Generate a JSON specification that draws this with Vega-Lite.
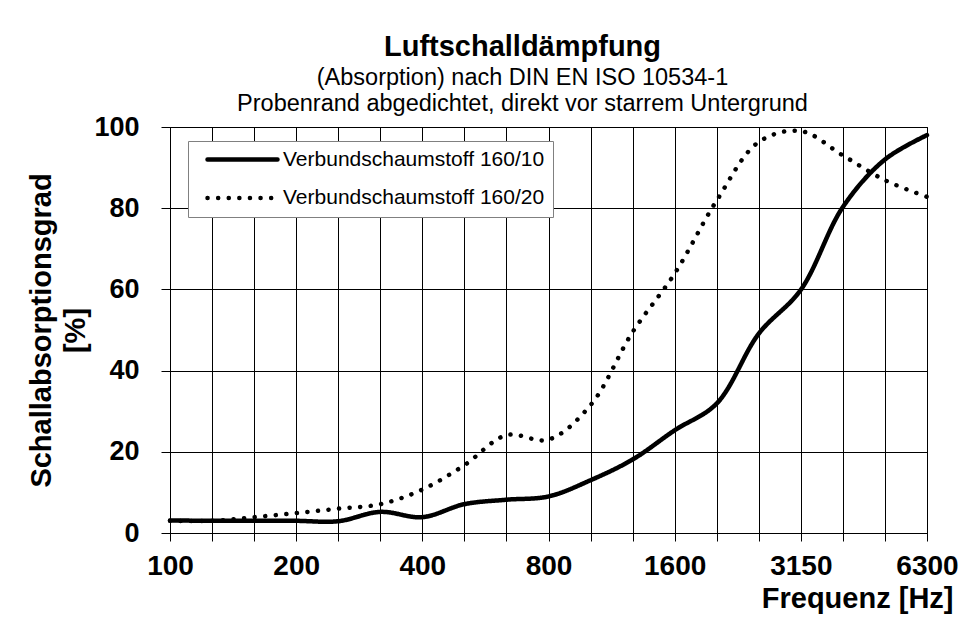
{
  "$schema": "https://vega.github.io/schema/vega-lite/v6.json",
  "width": 757,
  "height": 406,
  "autosize": "none",
  "padding": {"left": 170, "top": 127, "right": 38, "bottom": 95},
  "background": "white",
  "title": {
    "text": "Luftschalldämpfung",
    "subtitle": ["(Absorption) nach DIN EN ISO 10534-1", "Probenrand abgedichtet, direkt vor starrem Untergrund"],
    "font": "Liberation Sans",
    "fontSize": 29,
    "fontWeight": "bold",
    "color": "black",
    "subtitleFont": "Liberation Sans",
    "subtitleFontSize": 23.5,
    "subtitleLineHeight": 26,
    "subtitlePadding": 4,
    "subtitleColor": "black",
    "anchor": "middle",
    "frame": "group",
    "dx": -26,
    "offset": -2
  },
  "data": {
    "values": [
      {"f": "100", "s": "Verbundschaumstoff 160/10", "v": 3.1},
      {"f": "125", "s": "Verbundschaumstoff 160/10", "v": 3.0},
      {"f": "160", "s": "Verbundschaumstoff 160/10", "v": 3.0},
      {"f": "200", "s": "Verbundschaumstoff 160/10", "v": 3.0},
      {"f": "250", "s": "Verbundschaumstoff 160/10", "v": 2.9},
      {"f": "315", "s": "Verbundschaumstoff 160/10", "v": 5.2},
      {"f": "400", "s": "Verbundschaumstoff 160/10", "v": 3.9},
      {"f": "500", "s": "Verbundschaumstoff 160/10", "v": 7.1},
      {"f": "630", "s": "Verbundschaumstoff 160/10", "v": 8.2},
      {"f": "800", "s": "Verbundschaumstoff 160/10", "v": 9.0},
      {"f": "1000", "s": "Verbundschaumstoff 160/10", "v": 13.0},
      {"f": "1250", "s": "Verbundschaumstoff 160/10", "v": 18.1},
      {"f": "1600", "s": "Verbundschaumstoff 160/10", "v": 25.3},
      {"f": "2000", "s": "Verbundschaumstoff 160/10", "v": 31.9},
      {"f": "2500", "s": "Verbundschaumstoff 160/10", "v": 49.1},
      {"f": "3150", "s": "Verbundschaumstoff 160/10", "v": 59.9},
      {"f": "4000", "s": "Verbundschaumstoff 160/10", "v": 80.3},
      {"f": "5000", "s": "Verbundschaumstoff 160/10", "v": 92.0},
      {"f": "6300", "s": "Verbundschaumstoff 160/10", "v": 98.0},
      {"f": "100", "s": "Verbundschaumstoff 160/20", "v": 3.0},
      {"f": "125", "s": "Verbundschaumstoff 160/20", "v": 3.0},
      {"f": "160", "s": "Verbundschaumstoff 160/20", "v": 3.9},
      {"f": "200", "s": "Verbundschaumstoff 160/20", "v": 4.9},
      {"f": "250", "s": "Verbundschaumstoff 160/20", "v": 6.0},
      {"f": "315", "s": "Verbundschaumstoff 160/20", "v": 7.1},
      {"f": "400", "s": "Verbundschaumstoff 160/20", "v": 10.7},
      {"f": "500", "s": "Verbundschaumstoff 160/20", "v": 16.7},
      {"f": "630", "s": "Verbundschaumstoff 160/20", "v": 24.1},
      {"f": "800", "s": "Verbundschaumstoff 160/20", "v": 23.0},
      {"f": "1000", "s": "Verbundschaumstoff 160/20", "v": 31.5},
      {"f": "1250", "s": "Verbundschaumstoff 160/20", "v": 49.5},
      {"f": "1600", "s": "Verbundschaumstoff 160/20", "v": 63.9},
      {"f": "2000", "s": "Verbundschaumstoff 160/20", "v": 81.9},
      {"f": "2500", "s": "Verbundschaumstoff 160/20", "v": 96.3},
      {"f": "3150", "s": "Verbundschaumstoff 160/20", "v": 99.0},
      {"f": "4000", "s": "Verbundschaumstoff 160/20", "v": 93.0},
      {"f": "5000", "s": "Verbundschaumstoff 160/20", "v": 86.9},
      {"f": "6300", "s": "Verbundschaumstoff 160/20", "v": 82.8}
    ]
  },
  "mark": {"type": "line", "interpolate": "catmull-rom", "strokeWidth": 4.5, "strokeCap": "round", "color": "black"},
  "encoding": {
    "x": {
      "field": "f",
      "type": "ordinal",
      "sort": ["100","125","160","200","250","315","400","500","630","800","1000","1250","1600","2000","2500","3150","4000","5000","6300"],
      "scale": {"type": "point", "padding": 0},
      "axis": {
        "title": "Frequenz [Hz]",
        "labelExpr": "indexof(['100','200','400','800','1600','3150','6300'], datum.label) >= 0 ? datum.label : ''",
        "labelAngle": 0,
        "labelFont": "Liberation Sans",
        "labelFontSize": 28,
        "labelFontWeight": "bold",
        "labelColor": "black",
        "labelPadding": 11,
        "labelOverlap": false,
        "tickSize": 8,
        "tickColor": "black",
        "domainColor": "black",
        "grid": true,
        "gridColor": "black",
        "gridWidth": 1,
        "titleFont": "Liberation Sans",
        "titleFontSize": 29,
        "titleFontWeight": "bold",
        "titleColor": "black",
        "titleAnchor": "end",
        "titleAlign": "right",
        "titleX": 783,
        "titlePadding": 4
      }
    },
    "y": {
      "field": "v",
      "type": "quantitative",
      "scale": {"domain": [0, 100]},
      "axis": {
        "title": ["Schallabsorptionsgrad", "[%]"],
        "values": [0, 20, 40, 60, 80, 100],
        "labelFont": "Liberation Sans",
        "labelFontSize": 27,
        "labelFontWeight": "bold",
        "labelColor": "black",
        "labelPadding": 22,
        "tickSize": 9,
        "tickColor": "black",
        "domainColor": "black",
        "grid": true,
        "gridColor": "black",
        "gridWidth": 1,
        "titleFont": "Liberation Sans",
        "titleFontSize": 29,
        "titleFontWeight": "bold",
        "titleColor": "black",
        "titleLineHeight": 34,
        "titlePadding": 3
      }
    },
    "strokeDash": {
      "field": "s",
      "type": "nominal",
      "scale": {"domain": ["Verbundschaumstoff 160/10", "Verbundschaumstoff 160/20"], "range": [[1, 0], [0.1, 10.5]]},
      "legend": {
        "title": null,
        "orient": "none",
        "legendX": 18,
        "legendY": 14,
        "direction": "vertical",
        "fillColor": "white",
        "strokeColor": "#808080",
        "padding": 8,
        "symbolType": "stroke",
        "symbolSize": 4900,
        "symbolStrokeWidth": 4.5,
        "symbolStrokeColor": "black",
        "symbolOffset": 9,
        "clipHeight": 21,
        "labelFont": "Liberation Sans",
        "labelFontSize": 21,
        "labelColor": "black",
        "labelOffset": 3,
        "labelLimit": 0,
        "rowPadding": 16.4,
        "encode": {"symbols": {"update": {"strokeCap": {"value": "round"}}}}
      }
    }
  },
  "config": {"view": {"stroke": "black", "strokeWidth": 1}, "font": "Liberation Sans"}
}
